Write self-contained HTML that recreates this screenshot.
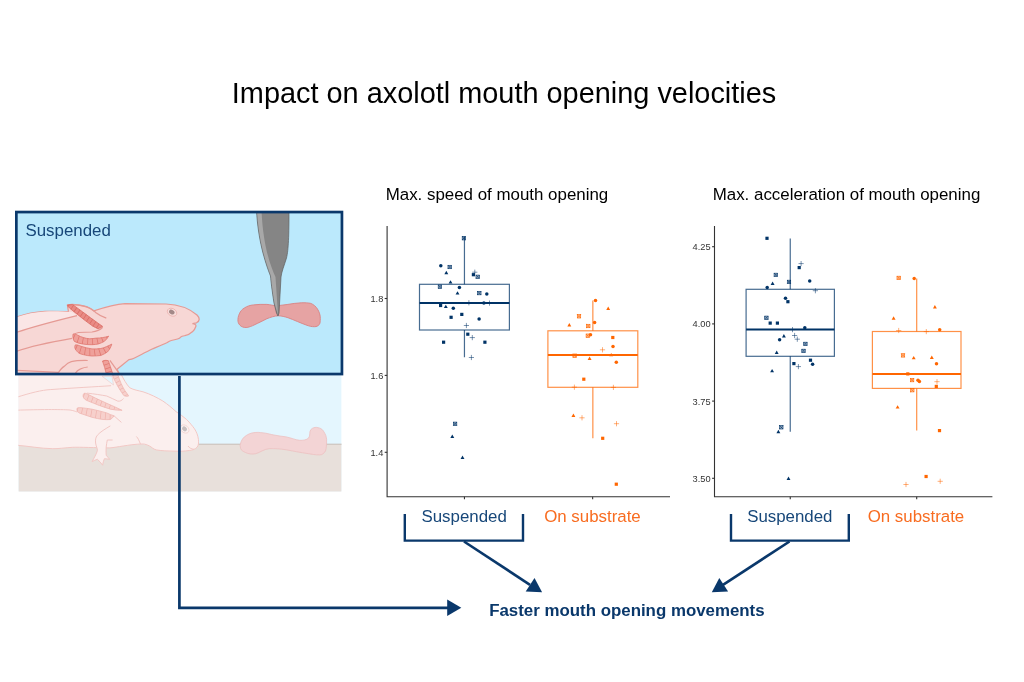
<!DOCTYPE html><html><head><meta charset="utf-8"><style>html,body{margin:0;padding:0;background:#fff;}svg{display:block;will-change:transform;font-family:"Liberation Sans",sans-serif;}</style></head><body><svg width="1024" height="682" viewBox="0 0 1024 682"><rect width="1024" height="682" fill="#fff"/>
<defs><clipPath id="cu"><rect x="17" y="212" width="325" height="162"/></clipPath><clipPath id="cl"><rect x="18.4" y="374" width="323.2" height="117.6"/></clipPath></defs><g clip-path="url(#cl)"><rect x="18.4" y="374" width="323.2" height="117.6" fill="#e4f6fe"/><rect x="18.4" y="444.2" width="323.2" height="50" fill="#e8e0db"/><path d="M190,444.2 H342" stroke="#c4b9b0" stroke-width="0.9"/><path d="M16,374 L121,374 C123.5,379 126.5,384.5 129.8,387.8 C134,390 138,390.5 143,391.8 C150,394 157,397.5 162.8,401 C168,404.5 172,408 176,411.6 C180,414.5 183.5,416.5 186.6,419.5 C190,423 192.5,426 194.5,428.8 C196.5,432 198,435.5 198.4,439.3 C198.8,443 198.5,445.5 197.1,447.2 C195,449.5 192,450.2 189.2,450.5 C184,451.3 180,451.3 176,451.2 C168,451 161,450.8 156.2,449.9 C153,449 151.5,447 149.6,446 C147,444.8 145,444 143,444 C135,444 128,445.3 123.2,446 C118,446.8 114,447.5 110,447.9 C95,447.8 80,447 72.7,447.3 C65,447.8 58,448.8 52.8,448.7 C40,448.5 28,446 16,445.2 Z" fill="#fbefee" stroke="#f2c8c5" stroke-width="1.0"/><path d="M102,376.2 L112,376.2 L113.5,385 Z" fill="#e4f6fe" stroke="#f2c8c5" stroke-width="0.6"/><path d="M110.3,425.9 C106,428.5 100,432 97.4,435.2 C95.5,437.5 95.3,440 95.6,443 C96,446 97.5,448.5 97.4,450.5 C96.5,454 94,458 92.1,461.6 C94,460.5 95.8,459.8 97.4,459.3 C99.5,461 101,463 102.6,465.2 C103,463 103.5,460.5 104.4,458.7 C106,458.8 108,459 109.7,459.3 C108.5,458 107.2,456.5 106.2,455.2 C106,452.5 106,449.5 106.2,447 C106.5,444.5 106.8,442 107.3,440 L112.6,440" fill="#fbefee" stroke="#f2c8c5" stroke-width="1.0"/><g fill="none" stroke="#f2c8c5" stroke-width="1.0"><path d="M16,397.5 C30,393 42,390 50.2,389.6 C75,387.8 95,386.8 111.1,385.7"/><path d="M16,410.2 C40,409.5 60,409.3 70,410 C73,410.5 75.5,411.3 77.3,412.1"/><path d="M114,415.8 C116.5,418 119,420.3 121.4,422.4"/><path d="M86.9,393.1 C95,394 101,395 106.7,396 C110.5,397.5 114,399.5 117.7,401.1 C120,401.5 122,400.5 123.5,398.5"/><path d="M140.5,444.2 C139.3,441 138,438 136.4,436.5"/><path d="M188,446 C189.5,448.2 191.5,449 194,449.3"/></g><clipPath id="lg0"><path d="M83.9,393.5 C82.5,395 83,397.5 84.5,399 C85.8,400 87,400.7 88.3,401.1 C92,402.5 95.5,404 99.3,405.5 C103,406.8 106.7,408 110.4,409.2 C114.3,410 118.2,410.3 122.1,410.3 C117,407.8 112,405.5 106.7,403.3 C103,401.6 99.3,400 95.7,398.2 C92.8,396.7 89.8,395.2 86.9,393.8 C85.9,393.3 84.8,393.1 83.9,393.5 Z"/></clipPath><path d="M83.9,393.5 C82.5,395 83,397.5 84.5,399 C85.8,400 87,400.7 88.3,401.1 C92,402.5 95.5,404 99.3,405.5 C103,406.8 106.7,408 110.4,409.2 C114.3,410 118.2,410.3 122.1,410.3 C117,407.8 112,405.5 106.7,403.3 C103,401.6 99.3,400 95.7,398.2 C92.8,396.7 89.8,395.2 86.9,393.8 C85.9,393.3 84.8,393.1 83.9,393.5 Z" fill="#f7d0cc"/><path d="M83,396.5 C95,401.5 108,406.5 122.1,410.3" fill="none" stroke="#efb3ae" stroke-width="10" stroke-dasharray="0.75 4.0" clip-path="url(#lg0)"/><path d="M83.9,393.5 C82.5,395 83,397.5 84.5,399 C85.8,400 87,400.7 88.3,401.1 C92,402.5 95.5,404 99.3,405.5 C103,406.8 106.7,408 110.4,409.2 C114.3,410 118.2,410.3 122.1,410.3 C117,407.8 112,405.5 106.7,403.3 C103,401.6 99.3,400 95.7,398.2 C92.8,396.7 89.8,395.2 86.9,393.8 C85.9,393.3 84.8,393.1 83.9,393.5 Z" fill="none" stroke="#efb7b2" stroke-width="0.8"/><clipPath id="lg1"><path d="M77.3,408 C76.5,409.5 77,411.5 78.5,412.5 C79.3,413.1 80.1,413.4 81,413.6 C84.7,414.9 88.3,416.1 92,417.3 C95.7,418.2 99.3,419 103,419.5 C105.5,419.7 108,419.7 110.4,419.5 C112,418.5 113.2,417.2 114,415.8 C112,415.3 109.5,414.2 106.7,412.9 C101.8,411.5 96.9,410.2 92,409.2 C88.3,408.6 84.7,408 81,407.7 C79.8,407.6 78.5,407.6 77.3,408 Z"/></clipPath><path d="M77.3,408 C76.5,409.5 77,411.5 78.5,412.5 C79.3,413.1 80.1,413.4 81,413.6 C84.7,414.9 88.3,416.1 92,417.3 C95.7,418.2 99.3,419 103,419.5 C105.5,419.7 108,419.7 110.4,419.5 C112,418.5 113.2,417.2 114,415.8 C112,415.3 109.5,414.2 106.7,412.9 C101.8,411.5 96.9,410.2 92,409.2 C88.3,408.6 84.7,408 81,407.7 C79.8,407.6 78.5,407.6 77.3,408 Z" fill="#f7d0cc"/><path d="M77,410.8 C88,413 100,416 114,415.8" fill="none" stroke="#efb3ae" stroke-width="10" stroke-dasharray="0.75 4.0" clip-path="url(#lg1)"/><path d="M77.3,408 C76.5,409.5 77,411.5 78.5,412.5 C79.3,413.1 80.1,413.4 81,413.6 C84.7,414.9 88.3,416.1 92,417.3 C95.7,418.2 99.3,419 103,419.5 C105.5,419.7 108,419.7 110.4,419.5 C112,418.5 113.2,417.2 114,415.8 C112,415.3 109.5,414.2 106.7,412.9 C101.8,411.5 96.9,410.2 92,409.2 C88.3,408.6 84.7,408 81,407.7 C79.8,407.6 78.5,407.6 77.3,408 Z" fill="none" stroke="#efb7b2" stroke-width="0.8"/><clipPath id="lg2"><path d="M112.2,374 L117.6,374 C119.8,381 122.3,386.5 124.8,390.5 C126.3,392.5 127.8,394.5 128.6,396 C126.8,396.5 125.3,396.3 123.8,395.5 C120.8,391.5 117.8,386.5 115.3,381.5 C114.1,379.3 113.1,377.2 112.2,374 Z"/></clipPath><path d="M112.2,374 L117.6,374 C119.8,381 122.3,386.5 124.8,390.5 C126.3,392.5 127.8,394.5 128.6,396 C126.8,396.5 125.3,396.3 123.8,395.5 C120.8,391.5 117.8,386.5 115.3,381.5 C114.1,379.3 113.1,377.2 112.2,374 Z" fill="#f7d0cc"/><path d="M114.8,374 L126.8,395" fill="none" stroke="#efb3ae" stroke-width="10" stroke-dasharray="0.75 3.2" clip-path="url(#lg2)"/><path d="M112.2,374 L117.6,374 C119.8,381 122.3,386.5 124.8,390.5 C126.3,392.5 127.8,394.5 128.6,396 C126.8,396.5 125.3,396.3 123.8,395.5 C120.8,391.5 117.8,386.5 115.3,381.5 C114.1,379.3 113.1,377.2 112.2,374 Z" fill="none" stroke="#efb7b2" stroke-width="0.8"/><g transform="translate(184.7,429) rotate(40)"><ellipse rx="4.8" ry="3.6" fill="#fbf1f0" stroke="#f3d2d0" stroke-width="0.8"/><ellipse cx="-0.2" rx="2.7" ry="2.1" fill="#c9bebe"/></g><path d="M240.1,445.3 C241,440 243.5,437 246.8,435.2 C250,433 254,432.3 258.1,432.4 C262,432.6 264.5,433 267.1,433.5 C270,434.2 272.5,434.8 274.9,435.2 C279,436 282.5,436.3 286.2,436.9 C291,437.8 295.5,440 299.6,440.3 C303,440.5 306.5,440 308.6,438 C310.5,436 309,431.5 310.9,429.6 C312.5,427.8 314.5,427.3 316.5,427.4 C320,427.6 322.3,429.3 323.2,430.7 C325.5,434 326.6,437 326.6,439.7 C326.6,444 326.5,448 325.5,451 C324,453.5 322,454.9 319.8,454.9 C315,455 312,454.2 308.6,453.7 C300,452.5 293,451 286.2,449.8 C280,448.8 275,448.5 269.3,448.7 C264,449 260,452.5 255.8,453.7 C252,454.5 248,453.8 245.7,452.6 C243,451.5 241,450 240.7,448.7 Z" fill="#f3d4d5" stroke="#ecc0c0" stroke-width="0.8"/></g>
<g clip-path="url(#cu)"><rect x="17" y="212" width="325" height="162" fill="#bbe9fc"/><path d="M16,317.3 C25,314 35,312 45,311.4 C55,311 63,311.5 68.5,311.8 L67.4,305.1 C69,304.5 70.5,304.4 72.3,304.4 C76,304.6 79.5,305 82.5,305.6 C85,306.2 87.3,306.8 89.2,307.7 C91,308.6 92.5,309.6 93.8,310.8 C104,307.5 114,304.5 125,303.6 L166,304 C178,304.5 190,309 197,315 C200,318 200,321 196.5,322.8 L192.5,323.6 C194.5,324 196.5,324.5 195.8,326.5 C195,329 194,330.5 192.7,331.5 C190.5,333.5 188,335 184.9,335.7 C183,336 181.5,336.2 181,336.8 C180,338 179,338.6 177.5,339 C175,339.8 173,340.2 171.3,340.5 C169.5,341 168.3,341.8 167.3,342.5 C162,345 157,347 151.7,349.3 C145,352.5 139,355.8 134,358.2 C132,359.2 130.5,359.4 129,359.6 L117.1,369.2 L119.9,376 L16,376 Z" fill="#f7d7d5" stroke="#e59a94" stroke-width="1.25"/><path d="M16,317.3 C25,314 35,312 45,311.4 C55,311 65,311.5 72,312 L77,315.6 C55,321 35,326 16,332.5 Z" fill="#fae6e6"/><g fill="none" stroke="#e59a94" stroke-width="1.25"><path d="M16,332.5 C35,326 55,321 77,315.6"/><path d="M16,351.5 C28,347 45,343 72,338.3"/><path d="M57.5,374 C60,370 62,367.5 64.2,366.4 C66.5,364 69,362.3 71.3,361.7 C76,360.5 82,360.4 87.7,360.5"/><path d="M74.8,374 C76.5,371 78.5,369.5 80.6,368.8 C83,367.8 85.5,367.2 87.7,367"/><path d="M16,370.3 C30,371 45,371.8 58.4,372.3"/><path d="M67.5,305 C72,304 80,305 86.5,306.8 C91,308 94,311 96,312.7 C99,315 103,317 106.3,318.2"/><path d="M102.7,327.3 C100,330 97,331.5 92,332 L78.5,332.5 C76,333 74.5,334 73.3,335"/><path d="M109.9,360.3 L119.6,374"/></g><clipPath id="g0"><path d="M67.4,305.1 L72.3,304.6 C73.5,305 74,305.5 74.8,306.2 C77.5,308 80,310 82.5,311.8 C85,313.7 87.7,315.6 90.2,317.5 C92.8,319.4 95.4,321.2 97.9,323.1 C99.5,324.2 101,325.3 102.6,326.4 C101,327.4 99.5,328.2 97.9,328.7 C96,327.8 94.5,327 92.8,326.2 C90.2,324.3 87.7,322.4 85.1,320.5 C82.5,318.5 80,316.4 77.4,314.4 C74.8,312.4 72.3,310.3 69.7,308.2 C68.5,307.2 67.8,306.2 67.4,305.1 Z"/></clipPath><path d="M67.4,305.1 L72.3,304.6 C73.5,305 74,305.5 74.8,306.2 C77.5,308 80,310 82.5,311.8 C85,313.7 87.7,315.6 90.2,317.5 C92.8,319.4 95.4,321.2 97.9,323.1 C99.5,324.2 101,325.3 102.6,326.4 C101,327.4 99.5,328.2 97.9,328.7 C96,327.8 94.5,327 92.8,326.2 C90.2,324.3 87.7,322.4 85.1,320.5 C82.5,318.5 80,316.4 77.4,314.4 C74.8,312.4 72.3,310.3 69.7,308.2 C68.5,307.2 67.8,306.2 67.4,305.1 Z" fill="#e98a84"/><path d="M68,305.8 L100.5,327.5" fill="none" stroke="#d96d66" stroke-width="10" stroke-dasharray="0.75 3.2" clip-path="url(#g0)"/><path d="M67.4,305.1 L72.3,304.6 C73.5,305 74,305.5 74.8,306.2 C77.5,308 80,310 82.5,311.8 C85,313.7 87.7,315.6 90.2,317.5 C92.8,319.4 95.4,321.2 97.9,323.1 C99.5,324.2 101,325.3 102.6,326.4 C101,327.4 99.5,328.2 97.9,328.7 C96,327.8 94.5,327 92.8,326.2 C90.2,324.3 87.7,322.4 85.1,320.5 C82.5,318.5 80,316.4 77.4,314.4 C74.8,312.4 72.3,310.3 69.7,308.2 C68.5,307.2 67.8,306.2 67.4,305.1 Z" fill="none" stroke="#d96d66" stroke-width="0.8"/><clipPath id="g1"><path d="M73.1,334 C72.6,336.5 73,339.5 74.4,341.4 C77,342.8 80,343.6 83.2,344.1 C86,344.5 89,344.8 92,344.7 C94.5,344.6 96.5,344.4 98.6,343.9 C100.5,343.2 102.5,342.4 104.3,341.4 C106,339.8 107.5,338 108.7,336.2 C105,337.3 100.5,338.1 96.4,338.1 C94,338.3 92,338.8 89.8,338.8 C85.5,338.5 81,337 77.9,335.3 C76.5,334.5 74.8,333.6 73.1,334 Z"/></clipPath><path d="M73.1,334 C72.6,336.5 73,339.5 74.4,341.4 C77,342.8 80,343.6 83.2,344.1 C86,344.5 89,344.8 92,344.7 C94.5,344.6 96.5,344.4 98.6,343.9 C100.5,343.2 102.5,342.4 104.3,341.4 C106,339.8 107.5,338 108.7,336.2 C105,337.3 100.5,338.1 96.4,338.1 C94,338.3 92,338.8 89.8,338.8 C85.5,338.5 81,337 77.9,335.3 C76.5,334.5 74.8,333.6 73.1,334 Z" fill="#efa09a"/><path d="M73,338 C80,341.5 86,342 92,341.8 C98,341.5 104,339.5 108.7,336.2" fill="none" stroke="#df7770" stroke-width="10" stroke-dasharray="0.75 4.2" clip-path="url(#g1)"/><path d="M73.1,334 C72.6,336.5 73,339.5 74.4,341.4 C77,342.8 80,343.6 83.2,344.1 C86,344.5 89,344.8 92,344.7 C94.5,344.6 96.5,344.4 98.6,343.9 C100.5,343.2 102.5,342.4 104.3,341.4 C106,339.8 107.5,338 108.7,336.2 C105,337.3 100.5,338.1 96.4,338.1 C94,338.3 92,338.8 89.8,338.8 C85.5,338.5 81,337 77.9,335.3 C76.5,334.5 74.8,333.6 73.1,334 Z" fill="none" stroke="#df7770" stroke-width="0.8"/><clipPath id="g2"><path d="M75.3,344.9 C74.3,346.5 74.8,349 76.3,350.5 C77.5,352 78.5,353 79.7,353.5 C81,354 82,354.4 83.2,354.6 C86,355.3 89,356 92,356 C95,356 98,355.8 100.8,355.5 C103.2,354.5 105.4,353.3 107.4,352 C109.5,349.8 110.9,347 111.8,344.1 C108.5,345.8 104.5,347.8 100.8,348.5 C97.8,349 95,349 92,348.9 C88.2,348.5 84.5,347.3 81,346.3 C79.2,345.5 77.2,344.7 75.3,344.9 Z"/></clipPath><path d="M75.3,344.9 C74.3,346.5 74.8,349 76.3,350.5 C77.5,352 78.5,353 79.7,353.5 C81,354 82,354.4 83.2,354.6 C86,355.3 89,356 92,356 C95,356 98,355.8 100.8,355.5 C103.2,354.5 105.4,353.3 107.4,352 C109.5,349.8 110.9,347 111.8,344.1 C108.5,345.8 104.5,347.8 100.8,348.5 C97.8,349 95,349 92,348.9 C88.2,348.5 84.5,347.3 81,346.3 C79.2,345.5 77.2,344.7 75.3,344.9 Z" fill="#efa09a"/><path d="M75,349.5 C82,352.5 87,353 92,352.6 C98,352.3 105,350 111.8,344.1" fill="none" stroke="#df7770" stroke-width="10" stroke-dasharray="0.75 4.2" clip-path="url(#g2)"/><path d="M75.3,344.9 C74.3,346.5 74.8,349 76.3,350.5 C77.5,352 78.5,353 79.7,353.5 C81,354 82,354.4 83.2,354.6 C86,355.3 89,356 92,356 C95,356 98,355.8 100.8,355.5 C103.2,354.5 105.4,353.3 107.4,352 C109.5,349.8 110.9,347 111.8,344.1 C108.5,345.8 104.5,347.8 100.8,348.5 C97.8,349 95,349 92,348.9 C88.2,348.5 84.5,347.3 81,346.3 C79.2,345.5 77.2,344.7 75.3,344.9 Z" fill="none" stroke="#df7770" stroke-width="0.8"/><clipPath id="g3"><path d="M102.5,361 C104.5,360.2 106.5,360.2 108.4,360.7 C109.5,364 111,368.5 112.8,374 L106.3,374 C105.3,369.5 104,365 102.5,361 Z"/></clipPath><path d="M102.5,361 C104.5,360.2 106.5,360.2 108.4,360.7 C109.5,364 111,368.5 112.8,374 L106.3,374 C105.3,369.5 104,365 102.5,361 Z" fill="#efa09a"/><path d="M105.5,360 L110.5,374" fill="none" stroke="#df7770" stroke-width="10" stroke-dasharray="0.75 3.3" clip-path="url(#g3)"/><path d="M102.5,361 C104.5,360.2 106.5,360.2 108.4,360.7 C109.5,364 111,368.5 112.8,374 L106.3,374 C105.3,369.5 104,365 102.5,361 Z" fill="none" stroke="#df7770" stroke-width="0.8"/><g transform="translate(172.05,312.25) rotate(28)"><ellipse rx="5.0" ry="3.7" fill="#f9dedc" stroke="#ebb3af" stroke-width="0.8"/><ellipse cx="-0.3" rx="2.9" ry="2.2" fill="#a38988"/></g><path d="M239.3,313.9 C240.5,311 242,309.5 244.1,308.2 C247,306.2 250,305.2 253.6,304.9 C258,304.4 262,304.2 266.9,304.4 C270.5,304.6 273.5,305.8 276.5,305.7 C280,305.6 284,304.8 287.9,304.4 C292.5,303.7 297,302.9 301.3,302.8 C305,302.7 308.3,302.8 310.8,303.4 C313.5,304.5 316,306.5 317.5,309.1 C319.3,312 320.5,315.5 320.3,318.7 C320.2,321 320.3,323 319.4,324.4 C318,326 316.5,326.7 314.6,326.7 C312,326.8 309.5,326.2 307,325.3 C303.8,324.2 300.5,322.8 297.4,321.5 C294.2,320.2 291,318.8 287.9,317.7 C284.7,316.7 281.6,315.9 278.4,315.8 C274.5,315.9 270.5,317.3 266.9,318.7 C263.7,320.2 260.6,322 257.4,323.4 C254.3,324.9 251.1,326.6 247.9,327.3 C245.5,327.8 243,327.4 241.2,326.3 C239.3,325 238.3,323.2 238,321.5 C237.7,318.8 238.2,316.2 239.3,313.9 Z" fill="#e6a3a3" stroke="#d98282" stroke-width="0.9"/><path d="M256.5,210 L289,210 C289,235 288.5,250 286.5,258 C284,266 281.5,272 281,277 L279,313 L278,316 L276.5,313 L274,303 C272,290 271,282 270.5,276 C265,262 258,240 256.5,210 Z" fill="#858585" stroke="#5e5e5e" stroke-width="0.7"/><path d="M257,210 L261.5,210 C263,245 270,265 275.5,277 L278,315 L274.5,303 C272.5,290 271.5,282 271,276 C265.5,262 258.5,240 257,210 Z" fill="#a8a8a8"/></g>
<rect x="16.35" y="212.05" width="325.6" height="162" fill="none" stroke="#0a386b" stroke-width="2.7"/>
<text x="25.5" y="235.7" font-size="16.87" fill="#174779">Suspended</text>
<text x="231.8" y="102.9" font-size="28.9" fill="#000">Impact on axolotl mouth opening velocities</text>
<text x="385.7" y="200.2" font-size="16.9" fill="#000">Max. speed of mouth opening</text>
<text x="712.7" y="200.2" font-size="16.9" fill="#000">Max. acceleration of mouth opening</text>
<g stroke="#333" stroke-width="1.1" fill="none"><path d="M387.1,226V496.8H670"/><path d="M384.70000000000005,298.5H387.1"/><path d="M384.70000000000005,375.4H387.1"/><path d="M384.70000000000005,452.3H387.1"/><path d="M464.45,496.8V499.2"/><path d="M592.65,496.8V499.2"/></g><text x="383.3" y="301.9" text-anchor="end" font-size="9.25" fill="#333">1.8</text><text x="383.3" y="378.79999999999995" text-anchor="end" font-size="9.25" fill="#333">1.6</text><text x="383.3" y="455.7" text-anchor="end" font-size="9.25" fill="#333">1.4</text>
<g stroke="#003366" fill="none"><path d="M464.45,236.6V284.3M464.45,330.0V357.2" stroke-width="1.2" stroke-opacity="0.72"/><rect x="419.5" y="284.3" width="89.90" height="45.70" stroke-width="1.2" stroke-opacity="0.72"/><path d="M419.5,303.0H509.4" stroke-width="2"/></g>
<g stroke="#ff6600" fill="none"><path d="M592.85,300.5V330.8M592.85,387.3V438.3" stroke-width="1.2" stroke-opacity="0.72"/><rect x="547.9" y="330.8" width="89.90" height="56.50" stroke-width="1.2" stroke-opacity="0.72"/><path d="M547.9,355.1H637.8" stroke-width="2"/></g>
<g stroke="#333" stroke-width="1.1" fill="none"><path d="M714.5,226V496.8H992.4"/><path d="M712.1,246.7H714.5"/><path d="M712.1,323.9H714.5"/><path d="M712.1,401.1H714.5"/><path d="M712.1,478.3H714.5"/><path d="M790.25,496.8V499.2"/><path d="M916.7,496.8V499.2"/></g><text x="710.6" y="250.1" text-anchor="end" font-size="9.25" fill="#333">4.25</text><text x="710.6" y="327.29999999999995" text-anchor="end" font-size="9.25" fill="#333">4.00</text><text x="710.6" y="404.5" text-anchor="end" font-size="9.25" fill="#333">3.75</text><text x="710.6" y="481.7" text-anchor="end" font-size="9.25" fill="#333">3.50</text>
<g stroke="#003366" fill="none"><path d="M790.25,238.4V289.3M790.25,356.3V431.7" stroke-width="1.2" stroke-opacity="0.72"/><rect x="746.1" y="289.3" width="88.30" height="67.00" stroke-width="1.2" stroke-opacity="0.72"/><path d="M746.1,329.6H834.4" stroke-width="2"/></g>
<g stroke="#ff6600" fill="none"><path d="M916.70,278.4V331.5M916.70,388.4V430.6" stroke-width="1.2" stroke-opacity="0.72"/><rect x="872.4" y="331.5" width="88.60" height="56.90" stroke-width="1.2" stroke-opacity="0.72"/><path d="M872.4,373.9H961.0" stroke-width="2"/></g>
<g stroke="#003366" stroke-width="0.65" fill="none"><rect x="462.20" y="236.50" width="3.4" height="3.4" fill="#003366" fill-opacity="0.3"/><path d="M462.20,236.50L465.60,239.90M465.60,236.50L462.20,239.90"/></g><circle cx="440.8" cy="265.7" r="1.75" fill="#003366"/><g stroke="#003366" stroke-width="0.65" fill="none"><rect x="448.00" y="265.30" width="3.4" height="3.4" fill="#003366" fill-opacity="0.3"/><path d="M448.00,265.30L451.40,268.70M451.40,265.30L448.00,268.70"/></g><path d="M446.30,270.80L448.25,274.20L444.35,274.20Z" fill="#003366"/><rect x="471.80" y="273.10" width="3.2" height="3.2" fill="#003366"/><path d="M472.20,272.2H477.40M474.8,269.60V274.80" stroke="#003366" stroke-width="0.65" stroke-opacity="0.8" fill="none"/><g stroke="#003366" stroke-width="0.65" fill="none"><rect x="476.00" y="275.10" width="3.4" height="3.4" fill="#003366" fill-opacity="0.3"/><path d="M476.00,275.10L479.40,278.50M479.40,275.10L476.00,278.50"/></g><path d="M450.50,280.20L452.45,283.60L448.55,283.60Z" fill="#003366"/><g stroke="#003366" stroke-width="0.65" fill="none"><rect x="438.20" y="285.00" width="3.4" height="3.4" fill="#003366" fill-opacity="0.3"/><path d="M438.20,285.00L441.60,288.40M441.60,285.00L438.20,288.40"/></g><circle cx="459.4" cy="287.4" r="1.75" fill="#003366"/><path d="M457.50,291.20L459.45,294.60L455.55,294.60Z" fill="#003366"/><g stroke="#003366" stroke-width="0.65" fill="none"><rect x="477.60" y="291.40" width="3.4" height="3.4" fill="#003366" fill-opacity="0.3"/><path d="M477.60,291.40L481.00,294.80M481.00,291.40L477.60,294.80"/></g><circle cx="486.8" cy="294.0" r="1.75" fill="#003366"/><path d="M466.30,302.8H471.50M468.9,300.20V305.40" stroke="#003366" stroke-width="0.65" stroke-opacity="0.8" fill="none"/><circle cx="483.9" cy="303.1" r="1.75" fill="#003366"/><path d="M486.90,303.1H492.10M489.5,300.50V305.70" stroke="#003366" stroke-width="0.65" stroke-opacity="0.8" fill="none"/><rect x="439.00" y="303.90" width="3.2" height="3.2" fill="#003366"/><path d="M445.80,304.70L447.75,308.10L443.85,308.10Z" fill="#003366"/><circle cx="453.3" cy="308.2" r="1.75" fill="#003366"/><rect x="460.20" y="312.80" width="3.2" height="3.2" fill="#003366"/><rect x="449.50" y="315.70" width="3.2" height="3.2" fill="#003366"/><circle cx="479.1" cy="319.1" r="1.75" fill="#003366"/><path d="M463.80,325.5H469.00M466.4,322.90V328.10" stroke="#003366" stroke-width="0.65" stroke-opacity="0.8" fill="none"/><rect x="466.20" y="332.60" width="3.2" height="3.2" fill="#003366"/><path d="M469.70,337.6H474.90M472.3,335.00V340.20" stroke="#003366" stroke-width="0.65" stroke-opacity="0.8" fill="none"/><rect x="442.00" y="340.60" width="3.2" height="3.2" fill="#003366"/><rect x="483.30" y="340.60" width="3.2" height="3.2" fill="#003366"/><path d="M468.80,357.5H474.00M471.4,354.90V360.10" stroke="#003366" stroke-width="0.65" stroke-opacity="0.8" fill="none"/><g stroke="#003366" stroke-width="0.65" fill="none"><rect x="453.40" y="422.10" width="3.4" height="3.4" fill="#003366" fill-opacity="0.3"/><path d="M453.40,422.10L456.80,425.50M456.80,422.10L453.40,425.50"/></g><path d="M452.30,434.50L454.25,437.90L450.35,437.90Z" fill="#003366"/><path d="M462.50,455.60L464.45,459.00L460.55,459.00Z" fill="#003366"/>
<circle cx="595.5" cy="300.4" r="1.75" fill="#ff6600"/><path d="M608.20,306.60L610.15,310.00L606.25,310.00Z" fill="#ff6600"/><g stroke="#ff6600" stroke-width="0.65" fill="none"><rect x="577.30" y="314.60" width="3.4" height="3.4" fill="#ff6600" fill-opacity="0.3"/><path d="M577.30,314.60L580.70,318.00M580.70,314.60L577.30,318.00"/></g><circle cx="594.6" cy="322.4" r="1.75" fill="#ff6600"/><path d="M569.30,323.00L571.25,326.40L567.35,326.40Z" fill="#ff6600"/><g stroke="#ff6600" stroke-width="0.65" fill="none"><rect x="586.60" y="324.30" width="3.4" height="3.4" fill="#ff6600" fill-opacity="0.3"/><path d="M586.60,324.30L590.00,327.70M590.00,324.30L586.60,327.70"/></g><g stroke="#ff6600" stroke-width="0.65" fill="none"><rect x="586.10" y="334.00" width="3.4" height="3.4" fill="#ff6600" fill-opacity="0.3"/><path d="M586.10,334.00L589.50,337.40M589.50,334.00L586.10,337.40"/></g><circle cx="590.5" cy="334.8" r="1.75" fill="#ff6600"/><rect x="611.20" y="335.90" width="3.2" height="3.2" fill="#ff6600"/><circle cx="613.0" cy="346.4" r="1.75" fill="#ff6600"/><path d="M599.90,349.8H605.10M602.5,347.20V352.40" stroke="#ff6600" stroke-width="0.65" stroke-opacity="0.8" fill="none"/><g stroke="#ff6600" stroke-width="0.65" fill="none"><rect x="572.90" y="354.00" width="3.4" height="3.4" fill="#ff6600" fill-opacity="0.3"/><path d="M572.90,354.00L576.30,357.40M576.30,354.00L572.90,357.40"/></g><path d="M611.20,352.90L613.15,356.30L609.25,356.30Z" fill="#ff6600"/><path d="M589.60,356.60L591.55,360.00L587.65,360.00Z" fill="#ff6600"/><circle cx="616.3" cy="362.2" r="1.75" fill="#ff6600"/><rect x="582.20" y="377.60" width="3.2" height="3.2" fill="#ff6600"/><path d="M571.80,387.2H577.00M574.4,384.60V389.80" stroke="#ff6600" stroke-width="0.65" stroke-opacity="0.8" fill="none"/><path d="M610.80,387.4H616.00M613.4,384.80V390.00" stroke="#ff6600" stroke-width="0.65" stroke-opacity="0.8" fill="none"/><path d="M573.40,413.50L575.35,416.90L571.45,416.90Z" fill="#ff6600"/><path d="M579.40,417.8H584.60M582.0,415.20V420.40" stroke="#ff6600" stroke-width="0.65" stroke-opacity="0.8" fill="none"/><path d="M613.90,423.7H619.10M616.5,421.10V426.30" stroke="#ff6600" stroke-width="0.65" stroke-opacity="0.8" fill="none"/><rect x="601.10" y="436.70" width="3.2" height="3.2" fill="#ff6600"/><rect x="614.70" y="482.60" width="3.2" height="3.2" fill="#ff6600"/>
<rect x="765.40" y="236.70" width="3.2" height="3.2" fill="#003366"/><path d="M798.50,263.6H803.70M801.1,261.00V266.20" stroke="#003366" stroke-width="0.65" stroke-opacity="0.8" fill="none"/><rect x="797.60" y="266.00" width="3.2" height="3.2" fill="#003366"/><g stroke="#003366" stroke-width="0.65" fill="none"><rect x="774.10" y="273.20" width="3.4" height="3.4" fill="#003366" fill-opacity="0.3"/><path d="M774.10,273.20L777.50,276.60M777.50,273.20L774.10,276.60"/></g><g stroke="#003366" stroke-width="0.65" fill="none"><rect x="787.30" y="280.20" width="3.4" height="3.4" fill="#003366" fill-opacity="0.3"/><path d="M787.30,280.20L790.70,283.60M790.70,280.20L787.30,283.60"/></g><circle cx="809.7" cy="281.0" r="1.75" fill="#003366"/><path d="M772.60,281.50L774.55,284.90L770.65,284.90Z" fill="#003366"/><circle cx="767.2" cy="287.5" r="1.75" fill="#003366"/><path d="M812.80,290.7H818.00M815.4,288.10V293.30" stroke="#003366" stroke-width="0.65" stroke-opacity="0.8" fill="none"/><circle cx="785.5" cy="298.2" r="1.75" fill="#003366"/><rect x="786.30" y="300.10" width="3.2" height="3.2" fill="#003366"/><g stroke="#003366" stroke-width="0.65" fill="none"><rect x="764.70" y="316.10" width="3.4" height="3.4" fill="#003366" fill-opacity="0.3"/><path d="M764.70,316.10L768.10,319.50M768.10,316.10L764.70,319.50"/></g><rect x="768.60" y="321.50" width="3.2" height="3.2" fill="#003366"/><rect x="775.80" y="321.50" width="3.2" height="3.2" fill="#003366"/><circle cx="804.8" cy="327.8" r="1.75" fill="#003366"/><path d="M789.90,329.6H795.10M792.5,327.00V332.20" stroke="#003366" stroke-width="0.65" stroke-opacity="0.8" fill="none"/><path d="M783.90,334.10L785.85,337.50L781.95,337.50Z" fill="#003366"/><path d="M792.00,335.5H797.20M794.6,332.90V338.10" stroke="#003366" stroke-width="0.65" stroke-opacity="0.8" fill="none"/><circle cx="779.6" cy="339.8" r="1.75" fill="#003366"/><path d="M794.70,339.2H799.90M797.3,336.60V341.80" stroke="#003366" stroke-width="0.65" stroke-opacity="0.8" fill="none"/><g stroke="#003366" stroke-width="0.65" fill="none"><rect x="803.70" y="342.20" width="3.4" height="3.4" fill="#003366" fill-opacity="0.3"/><path d="M803.70,342.20L807.10,345.60M807.10,342.20L803.70,345.60"/></g><g stroke="#003366" stroke-width="0.65" fill="none"><rect x="801.80" y="349.20" width="3.4" height="3.4" fill="#003366" fill-opacity="0.3"/><path d="M801.80,349.20L805.20,352.60M805.20,349.20L801.80,352.60"/></g><path d="M776.70,350.50L778.65,353.90L774.75,353.90Z" fill="#003366"/><rect x="792.30" y="362.00" width="3.2" height="3.2" fill="#003366"/><path d="M795.80,366.6H801.00M798.4,364.00V369.20" stroke="#003366" stroke-width="0.65" stroke-opacity="0.8" fill="none"/><rect x="808.90" y="358.60" width="3.2" height="3.2" fill="#003366"/><circle cx="812.6" cy="364.2" r="1.75" fill="#003366"/><path d="M772.10,368.90L774.05,372.30L770.15,372.30Z" fill="#003366"/><g stroke="#003366" stroke-width="0.65" fill="none"><rect x="779.60" y="425.60" width="3.4" height="3.4" fill="#003366" fill-opacity="0.3"/><path d="M779.60,425.60L783.00,429.00M783.00,425.60L779.60,429.00"/></g><path d="M778.40,429.80L780.35,433.20L776.45,433.20Z" fill="#003366"/><path d="M788.50,476.60L790.45,480.00L786.55,480.00Z" fill="#003366"/>
<g stroke="#ff6600" stroke-width="0.65" fill="none"><rect x="897.00" y="276.20" width="3.4" height="3.4" fill="#ff6600" fill-opacity="0.3"/><path d="M897.00,276.20L900.40,279.60M900.40,276.20L897.00,279.60"/></g><circle cx="914.2" cy="278.4" r="1.75" fill="#ff6600"/><path d="M934.90,305.00L936.85,308.40L932.95,308.40Z" fill="#ff6600"/><path d="M893.60,316.30L895.55,319.70L891.65,319.70Z" fill="#ff6600"/><path d="M896.10,330.5H901.30M898.7,327.90V333.10" stroke="#ff6600" stroke-width="0.65" stroke-opacity="0.8" fill="none"/><path d="M923.70,331.6H928.90M926.3,329.00V334.20" stroke="#ff6600" stroke-width="0.65" stroke-opacity="0.8" fill="none"/><circle cx="939.7" cy="329.8" r="1.75" fill="#ff6600"/><g stroke="#ff6600" stroke-width="0.65" fill="none"><rect x="901.30" y="353.70" width="3.4" height="3.4" fill="#ff6600" fill-opacity="0.3"/><path d="M901.30,353.70L904.70,357.10M904.70,353.70L901.30,357.10"/></g><path d="M913.70,355.90L915.65,359.30L911.75,359.30Z" fill="#ff6600"/><path d="M931.80,355.60L933.75,359.00L929.85,359.00Z" fill="#ff6600"/><circle cx="936.5" cy="363.7" r="1.75" fill="#ff6600"/><rect x="906.20" y="372.30" width="3.2" height="3.2" fill="#ff6600"/><g stroke="#ff6600" stroke-width="0.65" fill="none"><rect x="910.40" y="378.40" width="3.4" height="3.4" fill="#ff6600" fill-opacity="0.3"/><path d="M910.40,378.40L913.80,381.80M913.80,378.40L910.40,381.80"/></g><circle cx="918.0" cy="380.3" r="1.75" fill="#ff6600"/><circle cx="919.4" cy="381.6" r="1.75" fill="#ff6600"/><path d="M934.40,381.7H939.60M937.0,379.10V384.30" stroke="#ff6600" stroke-width="0.65" stroke-opacity="0.8" fill="none"/><rect x="934.70" y="384.80" width="3.2" height="3.2" fill="#ff6600"/><g stroke="#ff6600" stroke-width="0.65" fill="none"><rect x="910.60" y="388.50" width="3.4" height="3.4" fill="#ff6600" fill-opacity="0.3"/><path d="M910.60,388.50L914.00,391.90M914.00,388.50L910.60,391.90"/></g><path d="M897.60,405.20L899.55,408.60L895.65,408.60Z" fill="#ff6600"/><rect x="937.90" y="429.00" width="3.2" height="3.2" fill="#ff6600"/><rect x="924.50" y="474.90" width="3.2" height="3.2" fill="#ff6600"/><path d="M903.40,484.5H908.60M906.0,481.90V487.10" stroke="#ff6600" stroke-width="0.65" stroke-opacity="0.8" fill="none"/><path d="M937.60,481.3H942.80M940.2,478.70V483.90" stroke="#ff6600" stroke-width="0.65" stroke-opacity="0.8" fill="none"/>
<g font-size="16.87"><text x="421.5" y="521.6" fill="#174779">Suspended</text><text x="544.2" y="521.6" fill="#f86c20">On substrate</text><text x="747.2" y="521.6" fill="#174779">Suspended</text><text x="867.7" y="521.6" fill="#f86c20">On substrate</text></g>
<g stroke="#0a386b" stroke-width="2.4" fill="none"><path d="M404.8,514V540.6H523V514"/><path d="M731,514V540.6H848.8V514"/><path d="M464,541.5L530,584.8" stroke-width="2.6"/><path d="M789.5,541.5L723,584.8" stroke-width="2.6"/><path d="M179.4,376V607.8H448" stroke-width="2.7"/></g>
<g fill="#0a386b"><path d="M534.5,578L525.7,591.6L542.1,592.3Z"/><path d="M719.3,578L728.1,591.4L711.8,592.3Z"/><path d="M447.2,599.6L461.3,607.8L447.2,616.0Z"/></g>
<text x="489.2" y="615.7" font-size="16.88" font-weight="bold" fill="#0a386b">Faster mouth opening movements</text></svg></body></html>
